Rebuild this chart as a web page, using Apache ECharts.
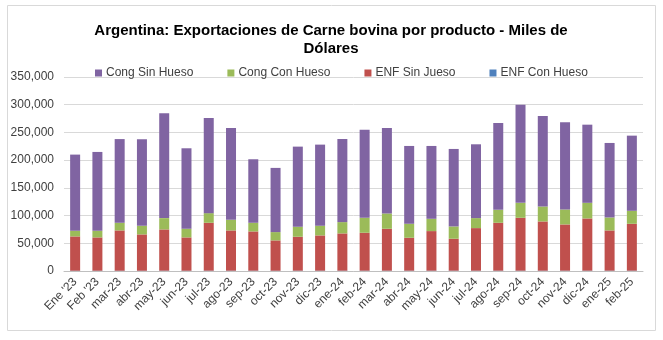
<!DOCTYPE html>
<html><head><meta charset="utf-8">
<script src="https://cdn.jsdelivr.net/npm/echarts@6/dist/echarts.min.js"></script>
<style>html,body{margin:0;padding:0;background:#fff;}#c{width:663px;height:340px;}</style>
</head><body><div id="c"></div>
<script>
const categories = ["Ene '23","Feb '23","mar-23","abr-23","may-23","jun-23","jul-23","ago-23","sep-23","oct-23","nov-23","dic-23","ene-24","feb-24","mar-24","abr-24","may-24","jun-24","jul-24","ago-24","sep-24","oct-24","nov-24","dic-24","ene-25","feb-25"];
const congSinHueso = [137400,142200,151000,156000,189000,145200,171600,165600,114600,115800,144600,146400,150000,159000,154200,140400,131400,139800,133200,156600,177000,163200,157200,141000,134400,135600];
const congConHueso = [10200,12000,13800,15600,20400,15600,17400,19200,15600,15000,18000,17400,20400,27000,27600,25200,22200,22200,18000,23400,27000,27000,27000,28200,23400,23400];
const enfSinJueso = [61900,60100,72700,65500,74400,60100,86400,72600,70800,54700,61200,63600,67200,68400,75600,59400,71400,57600,76800,86400,95400,88800,83400,94200,72600,84600];
const enfConHueso = [500,500,500,500,600,500,600,600,600,500,600,600,600,600,600,600,600,600,600,600,600,600,600,600,600,600];
const yTicks = [0,50000,100000,150000,200000,250000,300000,350000];

const chart = echarts.init(document.getElementById('c'));
const fmt = v => v.toLocaleString('en-US');
const font = 'Liberation Sans, Arial, sans-serif';
const mk = (name, data, color) => ({name, type:'bar', stack:'t', data, barWidth:10, itemStyle:{color}});
chart.setOption({
  animation:false,
  textStyle:{fontFamily:font},
  graphic:[{type:'rect', shape:{x:7.5,y:5.5,width:648,height:325}, style:{fill:null, stroke:'#d9d9d9', lineWidth:1}, silent:true}],
  title:{text:'Argentina: Exportaciones de Carne bovina por producto - Miles de\nDólares', left:326, textAlign:'center', top:17,
    textStyle:{fontSize:15, fontWeight:'bold', color:'#000', lineHeight:18, fontFamily:font}},
  legend:{top:62, left:90, itemWidth:7, itemHeight:7, itemGap:34, icon:'rect',
    data:['Cong Sin Hueso','Cong Con Hueso','ENF Sin Jueso','ENF Con Hueso'],
    textStyle:{fontSize:12, color:'#404040', fontFamily:font, padding:[0,0,0,-1]}},
  grid:{left:64, right:20, top:77, bottom:69},
  xAxis:{type:'category', data:categories,
    axisLine:{lineStyle:{color:'#bfbfbf'}}, axisTick:{show:false},
    axisLabel:{rotate:45, fontSize:12, color:'#404040', interval:0, margin:9, fontFamily:font}},
  yAxis:{type:'value', min:yTicks[0], max:yTicks[yTicks.length-1], interval:50000,
    axisLabel:{formatter:fmt, fontSize:12, color:'#404040', margin:10, fontFamily:font},
    splitLine:{lineStyle:{color:'#d9d9d9'}}, axisLine:{show:false}, axisTick:{show:false}},
  series:[
    mk('ENF Con Hueso', enfConHueso, '#4F81BD'),
    mk('ENF Sin Jueso', enfSinJueso, '#C0504D'),
    mk('Cong Con Hueso', congConHueso, '#9BBB59'),
    mk('Cong Sin Hueso', congSinHueso, '#8064A2')
  ]
});
</script></body></html>
